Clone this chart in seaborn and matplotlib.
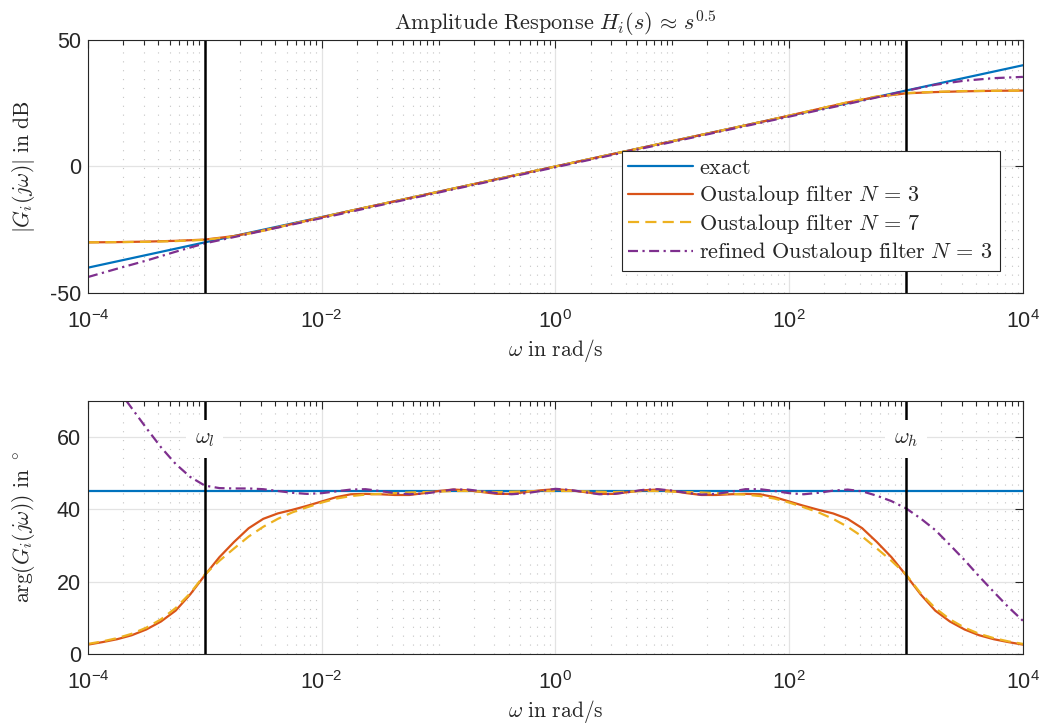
import numpy as np
import seaborn as sns
import matplotlib.pyplot as plt
from matplotlib.ticker import FixedLocator, NullFormatter

# frequency grids (log10 of omega)
log_w_mag = [-4.0, -3.75, -3.5, -3.25, -3.0, -2.75, -2.5, -2.25, -2.0, -1.75, -1.5, -1.25, -1.0,
             -0.75, -0.5, -0.25, 0.0, 0.25, 0.5, 0.75, 1.0, 1.25, 1.5, 1.75, 2.0, 2.25, 2.5,
             2.75, 3.0, 3.25, 3.5, 3.75, 4.0]
log_w_phase = [-4.0, -3.875, -3.75, -3.625, -3.5, -3.375, -3.25, -3.125, -3.0, -2.875, -2.75,
               -2.625, -2.5, -2.375, -2.25, -2.125, -2.0, -1.875, -1.75, -1.625, -1.5, -1.375,
               -1.25, -1.125, -1.0, -0.875, -0.75, -0.625, -0.5, -0.375, -0.25, -0.125, 0.0,
               0.125, 0.25, 0.375, 0.5, 0.625, 0.75, 0.875, 1.0, 1.125, 1.25, 1.375, 1.5,
               1.625, 1.75, 1.875, 2.0, 2.125, 2.25, 2.375, 2.5, 2.625, 2.75, 2.875, 3.0,
               3.125, 3.25, 3.375, 3.5, 3.625, 3.75, 3.875, 4.0]
log_w_exact = [-4.0, 4.0]

# amplitude in dB
mag_exact = [-40.0, 40.0]
mag_n3 = [-30.0, -29.9, -29.7, -29.4, -28.9, -27.5, -25.3, -22.7, -20.1, -17.5, -15.0, -12.5,
          -10.0, -7.5, -5.0, -2.5, 0.0, 2.5, 5.0, 7.5, 10.0, 12.5, 15.0, 17.5, 20.1, 22.7, 25.3,
          27.5, 28.9, 29.4, 29.7, 29.9, 30.0]
mag_n7 = [-30.0, -29.9, -29.8, -29.5, -29.0, -27.7, -25.4, -22.7, -20.1, -17.5, -15.0, -12.5,
          -10.0, -7.5, -5.0, -2.5, 0.0, 2.5, 5.0, 7.5, 10.0, 12.5, 15.0, 17.5, 20.1, 22.7, 25.4,
          27.7, 29.0, 29.5, 29.8, 29.9, 30.0]
mag_ref = [-43.7, -40.4, -37.2, -33.7, -30.4, -27.9, -25.4, -22.9, -20.4, -17.9, -15.3, -12.8,
           -10.3, -7.8, -5.3, -2.8, -0.3, 2.2, 4.7, 7.2, 9.7, 12.2, 14.7, 17.2, 19.7, 22.2, 24.7,
           27.3, 29.9, 32.3, 33.9, 34.9, 35.4]

# phase in degrees
ph_exact = [45.0, 45.0]
ph_n3 = [2.6, 3.3, 4.1, 5.2, 6.8, 9.0, 12.0, 16.5, 21.8, 26.8, 31.0, 34.8, 37.4, 38.9, 39.9,
         41.0, 42.2, 43.4, 44.2, 44.3, 44.2, 44.0, 44.0, 44.5, 45.1, 45.5, 45.3, 44.8, 44.3,
         44.3, 44.8, 45.3, 45.6, 45.3, 44.8, 44.3, 44.3, 44.8, 45.3, 45.5, 45.1, 44.5, 44.0,
         44.0, 44.2, 44.3, 44.2, 43.4, 42.2, 41.0, 39.9, 38.9, 37.4, 34.8, 31.0, 26.8, 21.8,
         16.5, 12.0, 9.0, 6.8, 5.2, 4.1, 3.3, 2.6]
ph_n7 = [2.8, 3.5, 4.4, 5.6, 7.3, 9.6, 12.7, 16.8, 22.0, 25.8, 29.2, 32.5, 35.2, 37.4, 39.2,
         40.6, 41.9, 43.0, 43.7, 44.1, 44.3, 44.5, 44.7, 44.8, 44.9, 45.1, 45.1, 44.9, 44.8,
         44.9, 45.0, 45.1, 45.1, 45.1, 45.0, 44.9, 44.8, 44.9, 45.1, 45.1, 44.9, 44.8, 44.7,
         44.5, 44.3, 44.1, 43.7, 43.0, 41.9, 40.6, 39.2, 37.4, 35.2, 32.5, 29.2, 25.8, 22.0,
         16.8, 12.7, 9.6, 7.3, 5.6, 4.4, 3.5, 2.8]
ph_ref = [84.0, 79.0, 73.5, 68.0, 62.5, 57.2, 52.6, 49.0, 46.6, 45.9, 45.8, 45.8, 45.6, 45.1,
          44.6, 44.3, 44.5, 45.0, 45.5, 45.6, 45.1, 44.5, 44.2, 44.4, 44.9, 45.5, 45.5, 45.0,
          44.5, 44.2, 44.5, 45.1, 45.7, 45.4, 44.8, 44.2, 44.3, 44.8, 45.4, 45.6, 45.2, 44.6,
          44.1, 44.3, 44.9, 45.6, 45.6, 45.1, 44.5, 44.2, 44.6, 45.2, 45.5, 45.0, 43.8, 42.3,
          40.3, 37.5, 34.3, 30.2, 26.0, 21.5, 17.2, 13.0, 9.2]

labels = [r'$\mathrm{exact}$', r'$\mathrm{Oustaloup\ filter}\ N\,=\,3$',
          r'$\mathrm{Oustaloup\ filter}\ N\,=\,7$', r'$\mathrm{refined\ Oustaloup\ filter}\ N\,=\,3$']
colors = ['#0072BD', '#D95319', '#EDB120', '#7E2F8E']
w_low, w_high = 1e-3, 1e3

sns.set_theme(style='white')
plt.rcParams['font.family'] = ['Liberation Sans', 'DejaVu Sans']
plt.rcParams['mathtext.fontset'] = 'cm'
plt.rcParams['axes.unicode_minus'] = False

fig = plt.figure(figsize=(10.47, 7.25), dpi=100)
ax1 = fig.add_axes([0.0840, 0.5959, 0.8930, 0.3490])
ax2 = fig.add_axes([0.0840, 0.0979, 0.8930, 0.3490])

w_mag = 10 ** np.array(log_w_mag)
w_ph = 10 ** np.array(log_w_phase)
w_ex = 10 ** np.array(log_w_exact)

dash_n7 = [5, 2.8]
dash_ref = [4.5, 2, 1, 2]

# amplitude
sns.lineplot(x=w_ex, y=mag_exact, ax=ax1, color=colors[0], lw=1.6, label=labels[0])
sns.lineplot(x=w_mag, y=mag_n3, ax=ax1, color=colors[1], lw=1.6, label=labels[1])
sns.lineplot(x=w_mag, y=mag_n7, ax=ax1, color=colors[2], lw=1.6, label=labels[2])
ax1.lines[-1].set_dashes(dash_n7)
sns.lineplot(x=w_mag, y=mag_ref, ax=ax1, color=colors[3], lw=1.6, label=labels[3])
ax1.lines[-1].set_dashes(dash_ref)

# phase
sns.lineplot(x=w_ex, y=ph_exact, ax=ax2, color=colors[0], lw=1.6, legend=False)
sns.lineplot(x=w_ph, y=ph_n3, ax=ax2, color=colors[1], lw=1.6, legend=False)
sns.lineplot(x=w_ph, y=ph_n7, ax=ax2, color=colors[2], lw=1.6, legend=False)
ax2.lines[-1].set_dashes(dash_n7)
sns.lineplot(x=w_ph, y=ph_ref, ax=ax2, color=colors[3], lw=1.6, legend=False)
ax2.lines[-1].set_dashes(dash_ref)

for ax in (ax1, ax2):
    ax.axvline(w_low, color='black', lw=1.8)
    ax.axvline(w_high, color='black', lw=1.8)
    ax.set_xscale('log')
    ax.set_xlim(1e-4, 1e4)
    ax.xaxis.set_major_locator(FixedLocator([1e-4, 1e-2, 1e0, 1e2, 1e4]))
    minors = [m * 10.0 ** e for e in range(-4, 4) for m in range(1, 10)]
    minors = [v for v in minors if v not in (1e-4, 1e-2, 1e0, 1e2)]
    ax.xaxis.set_minor_locator(FixedLocator(minors))
    ax.xaxis.set_minor_formatter(NullFormatter())
    ax.set_axisbelow(True)
    ax.grid(which='major', color='#e3e3e3', lw=0.9)
    ax.grid(which='minor', axis='x', color='#c4c4c4', ls=(0, (1, 7)), lw=0.8)
    ax.tick_params(which='both', direction='in', top=True, right=True, colors='#262626',
                   labelsize=15.5, width=0.8)
    ax.tick_params(which='major', length=6)
    ax.tick_params(which='minor', length=3.5)
    ax.tick_params(axis='x', which='major', pad=12)
    ax.tick_params(axis='y', which='major', pad=5)
    for s in ax.spines.values():
        s.set_color('#262626')
        s.set_linewidth(0.8)
    ax.set_xlabel(r'$\omega\ \mathrm{in\ rad/s}$', fontsize=15.5, labelpad=3)

ax1.set_ylim(-50, 50)
ax1.set_yticks([-50, 0, 50])
ax1.set_ylabel(r'$|G_i(j\omega)|\ \mathrm{in\ dB}$', fontsize=15.5, labelpad=9)
ax1.set_title(r'$\mathrm{Amplitude\ Response}\ H_i(s)\,\approx\,s^{0.5}$', fontsize=16, pad=7)

ax2.set_ylim(0, 70)
ax2.set_yticks([0, 20, 40, 60])
ax2.set_ylabel(r'$\arg(G_i(j\omega))\ \mathrm{in}\ ^\circ$', fontsize=15.5, labelpad=14)

box = dict(facecolor='white', edgecolor='none', pad=6)
ax2.text(w_low, 59.5, r'$\omega_l$', ha='center', va='center', fontsize=16, bbox=box, zorder=5)
ax2.text(w_high, 59.5, r'$\omega_h$', ha='center', va='center', fontsize=16, bbox=box, zorder=5)

leg = ax1.legend(loc='lower right', bbox_to_anchor=(0.975, 0.087), borderaxespad=0,
                 fontsize=16, handlelength=2.9, handletextpad=0.3, labelspacing=0.2,
                 borderpad=0.3, fancybox=False, framealpha=1, edgecolor='#262626')
leg.get_frame().set_linewidth(0.8)

fig.savefig('out.png', dpi=100)
